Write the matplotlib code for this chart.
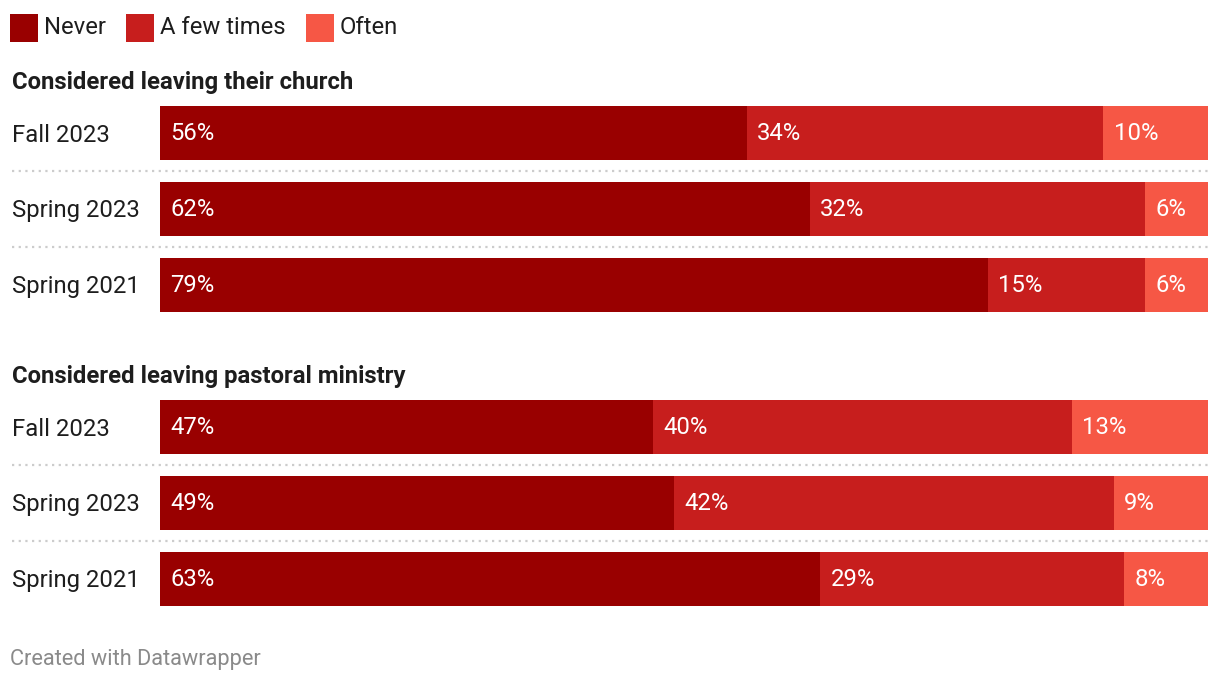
import matplotlib
matplotlib.use("Agg")
import matplotlib.pyplot as plt
from matplotlib.patches import Rectangle

plt.rcParams['font.family'] = ['Roboto', 'DejaVu Sans']

series_names = ["Never", "A few times", "Often"]
series_colors = ["#990000", "#c71e1d", "#f65745"]
group_titles = ["Considered leaving their church", "Considered leaving pastoral ministry"]
categories = ["Fall 2023", "Spring 2023", "Spring 2021"]
never = [56, 62, 79, 47, 49, 63]
few_times = [34, 32, 15, 40, 42, 29]
often = [10, 6, 6, 13, 9, 8]

W, H = 1220, 684
fig = plt.figure(figsize=(W / 100, H / 100), dpi=100)
fig.patch.set_facecolor("white")

# Axes: x in percent over bar area, y in pixels (top = 0)
ax = fig.add_axes([160 / W, 0, 1048 / W, 1])
ax.set_xlim(0, 100)
ax.set_ylim(H, 0)
ax.axis("off")

row_centers = [133, 209, 285, 427, 503, 579]
title_y = [83, 377]
sep_y = [171, 247, 465, 541]
bar_h = 54
txt_color = "#1d1d1d"
fs = 17.2

values = [never, few_times, often]
left = [0] * len(never)
for vals, col in zip(values, series_colors):
    ax.barh(row_centers, vals, left=left, height=bar_h, color=col, linewidth=0)
    for yc, l, v in zip(row_centers, left, vals):
        ax.text(l + 1.0, yc + 1, f"{v}%", color="white", fontsize=fs,
                va="center", ha="left")
    left = [a + b for a, b in zip(left, vals)]

for i, yc in enumerate(row_centers):
    fig.text(12 / W, 1 - (yc + 2) / H, categories[i % 3], fontsize=fs, color=txt_color,
             va="center", ha="left")

for t, yt in zip(group_titles, title_y):
    fig.text(12 / W, 1 - yt / H, t, fontsize=fs, fontweight="bold", color=txt_color,
             va="center", ha="left")

for ys in sep_y:
    fig.add_artist(plt.Line2D([12 / W, 1208 / W], [1 - ys / H, 1 - ys / H],
                              transform=fig.transFigure, color="#cccccc",
                              linewidth=1.6, linestyle=(0, (1, 2))))

# Legend
leg_x = [10, 126, 306]
for name, col, lx in zip(series_names, series_colors, leg_x):
    fig.add_artist(Rectangle((lx / W, 1 - 42 / H), 28 / W, 28 / H,
                             transform=fig.transFigure, color=col, linewidth=0))
    fig.text((lx + 34) / W, 1 - 27 / H, name, fontsize=fs, color=txt_color,
             va="center", ha="left")

fig.text(10 / W, 1 - 659 / H, "Created with Datawrapper", fontsize=15.7,
         color="#8a8a8a", va="center", ha="left")

fig.savefig("out.png", dpi=100, facecolor="white")
